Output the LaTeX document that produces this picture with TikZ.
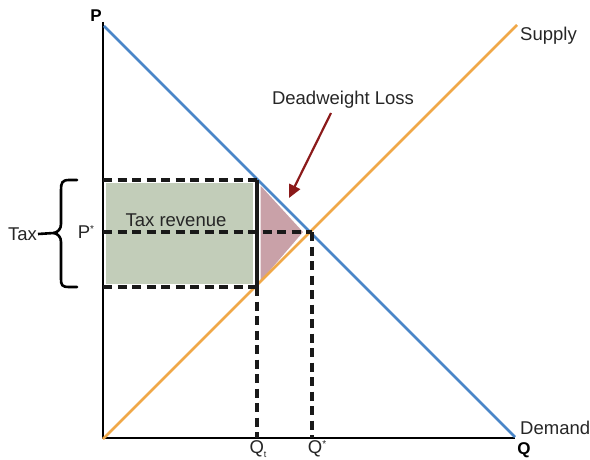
\documentclass[tikz,border=0pt]{standalone}
\usepackage{fontspec}
\setmainfont{Liberation Sans}
\usetikzlibrary{arrows.meta}
\definecolor{demandblue}{HTML}{4A86C8}
\definecolor{supplyorange}{HTML}{F0A848}
\definecolor{revgreen}{HTML}{C2CDB9}
\definecolor{dwlpink}{HTML}{C9A1A8}
\definecolor{arrowred}{HTML}{8B1A1A}
\definecolor{txt}{HTML}{262626}
\tikzset{
  lbl/.style={font=\fontsize{18.5}{21}\selectfont, text=txt, inner sep=1pt},
  axlbl/.style={font=\fontsize{17}{20}\selectfont\bfseries, inner sep=1pt},
  axis/.style={line width=2.6pt, black},
  curve/.style={line width=2.5pt},
  dashline/.style={line width=3.05pt, black!90, dash pattern=on 9pt off 5.5pt},
  solidline/.style={line width=3.05pt, black!90},
}
\begin{document}
\begin{tikzpicture}[x=1pt,y=-1pt]
\useasboundingbox (0,0) rectangle (590,460);
% key points
\coordinate (O) at (103,438);
\coordinate (Ytop) at (103,22);
\coordinate (Xend) at (515,438);
\coordinate (Dstart) at (104,26);
\coordinate (Dend) at (515,437);
\coordinate (Sstart) at (103,439);
\coordinate (Send) at (517,25);
\coordinate (E) at (312,232);
\coordinate (TL) at (103,180);
\coordinate (TR) at (257,180);
\coordinate (BL) at (103,287);
\coordinate (BR) at (257,287);
\coordinate (PL) at (103,232);
\coordinate (QtB) at (257,438);
\coordinate (QsB) at (312,438);
% fills
\fill[revgreen] (106,183) rectangle (253,284);
\filldraw[fill=dwlpink, draw=white, line width=1.2pt] (260,184) -- (260,283) -- (304,232) -- cycle;
% axes
\draw[axis] (Ytop) -- (O) -- (Xend);
% curves
\draw[curve, supplyorange] (Sstart) -- (Send);
\draw[curve, demandblue] (Dstart) -- (Dend);
% dashed lines
\draw[dashline] (TL) -- (TR);
\draw[dashline] (BL) -- (BR);
\draw[solidline] (TR) -- (BR);
\draw[dashline] (BR) -- (QtB);
\draw[dashline] (PL) -- (E);
\draw[dashline] (E) -- (QsB);
% labels
\node[axlbl] (P) at (96,16) {P};
\node[axlbl] (Q) at (524,450) {Q};
\node[lbl, anchor=west] (supply) at (519,36) {Supply};
\node[lbl, anchor=west] (demand) at (519,428) {Demand};
\node[lbl] (taxrev) at (176,220) {Tax revenue};
\node[lbl] (dwl) at (343,100) {Deadweight Loss};
\node[lbl] (pstar) at (86,232) {P\raisebox{0.6ex}{\fontsize{10}{11}\selectfont *}};
\node[lbl] (qt) at (258,449) {Q\raisebox{-0.35ex}{\fontsize{9}{10}\selectfont t}};
\node[lbl] (qstar) at (317,449) {Q\raisebox{0.6ex}{\fontsize{10}{11}\selectfont *}};
\node[lbl, anchor=east] (tax) at (38,234) {Tax};
% arrow
\coordinate (arrowstart) at (331,113);
\coordinate (arrowtip) at (289,198);
\draw[arrowred, line width=2.2pt, -{Triangle[length=13pt,width=12pt]}] (arrowstart) -- (arrowtip);
% brace
\coordinate (brtip) at (54,233);
\draw[line width=2.6pt, line cap=round] (77,180) -- (69,180) .. controls (62,180) and (61,183) .. (61,190)
  -- (61,224) .. controls (61,229) and (58,232) .. (brtip)
  .. controls (58,234) and (61,237) .. (61,242)
  -- (61,279) .. controls (61,285) and (62,287) .. (69,287) -- (77,287);
\draw[line width=2.6pt] (tax.east) -- (brtip);
\end{tikzpicture}
\end{document}
